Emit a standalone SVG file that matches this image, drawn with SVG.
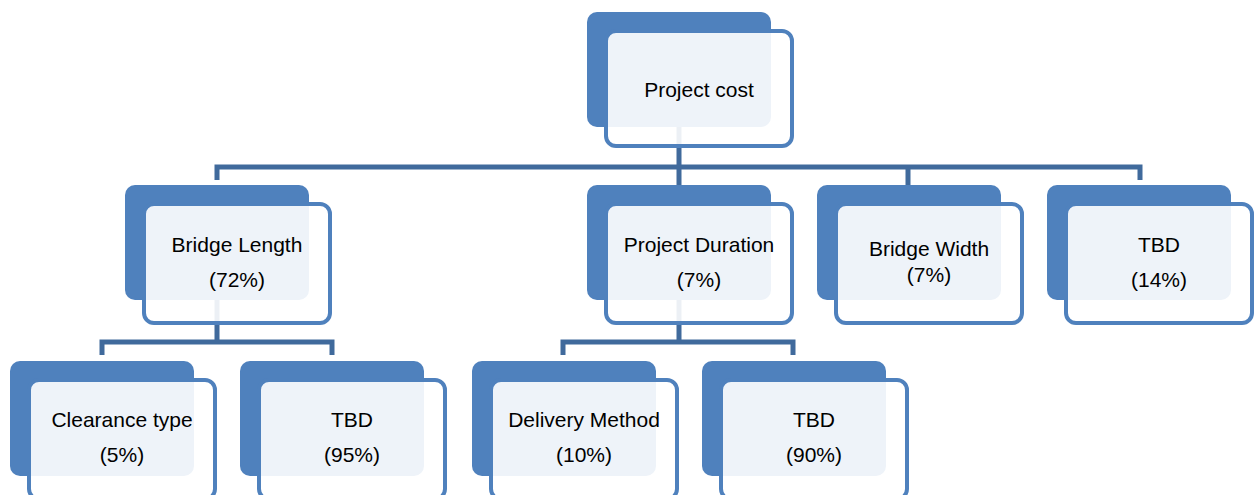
<svg xmlns="http://www.w3.org/2000/svg" width="1257" height="495" viewBox="0 0 1257 495">
<style>
.back{fill:#4F81BD}
.front{fill:#FFFFFF;fill-opacity:0.9;stroke:#4F81BD;stroke-width:4}
.conn{fill:none;stroke:#406A9C;stroke-width:5}
text{font-family:"Liberation Sans",Arial,sans-serif;font-size:21px;fill:#000;text-anchor:middle}
</style>
<rect width="1257" height="495" fill="#FFFFFF"/>
<g id="connectors">
<path class="conn" d="M679,127 V167 M217,180 V167 H1140 V180 M679,167 V185 M908,167 V185"/>
<path class="conn" d="M217,300 V342 M102,355 V342 H332 V355"/>
<path class="conn" d="M679,300 V342 M563,355 V342 H793 V355"/>
</g>
<g id="node-project-cost">
<rect class="back" x="587" y="12" width="184" height="115" rx="10"/>
<rect class="front" x="606" y="31" width="186" height="115" rx="10"/>
<text x="699" y="97">Project cost</text>
</g>
<g id="node-bridge-length">
<rect class="back" x="125" y="185" width="184" height="115" rx="10"/>
<rect class="front" x="144" y="204" width="186" height="119" rx="10"/>
<text x="237" y="252">Bridge Length</text>
<text x="237" y="287">(72%)</text>
</g>
<g id="node-project-duration">
<rect class="back" x="587" y="185" width="184" height="115" rx="10"/>
<rect class="front" x="606" y="204" width="186" height="119" rx="10"/>
<text x="699" y="252">Project Duration</text>
<text x="699" y="287">(7%)</text>
</g>
<g id="node-bridge-width">
<rect class="back" x="817" y="185" width="184" height="115" rx="10"/>
<rect class="front" x="836" y="204" width="186" height="119" rx="10"/>
<text x="929" y="256">Bridge Width</text>
<text x="929" y="282">(7%)</text>
</g>
<g id="node-tbd-14">
<rect class="back" x="1047" y="185" width="184" height="115" rx="10"/>
<rect class="front" x="1066" y="204" width="186" height="119" rx="10"/>
<text x="1159" y="252">TBD</text>
<text x="1159" y="287">(14%)</text>
</g>
<g id="node-clearance-type">
<rect class="back" x="10" y="361" width="184" height="115" rx="10"/>
<rect class="front" x="29" y="380" width="186" height="119" rx="10"/>
<text x="122" y="427">Clearance type</text>
<text x="122" y="462">(5%)</text>
</g>
<g id="node-tbd-95">
<rect class="back" x="240" y="361" width="184" height="115" rx="10"/>
<rect class="front" x="259" y="380" width="186" height="119" rx="10"/>
<text x="352" y="427">TBD</text>
<text x="352" y="462">(95%)</text>
</g>
<g id="node-delivery-method">
<rect class="back" x="472" y="361" width="184" height="115" rx="10"/>
<rect class="front" x="491" y="380" width="186" height="119" rx="10"/>
<text x="584" y="427">Delivery Method</text>
<text x="584" y="462">(10%)</text>
</g>
<g id="node-tbd-90">
<rect class="back" x="702" y="361" width="184" height="115" rx="10"/>
<rect class="front" x="721" y="380" width="186" height="119" rx="10"/>
<text x="814" y="427">TBD</text>
<text x="814" y="462">(90%)</text>
</g>
</svg>
